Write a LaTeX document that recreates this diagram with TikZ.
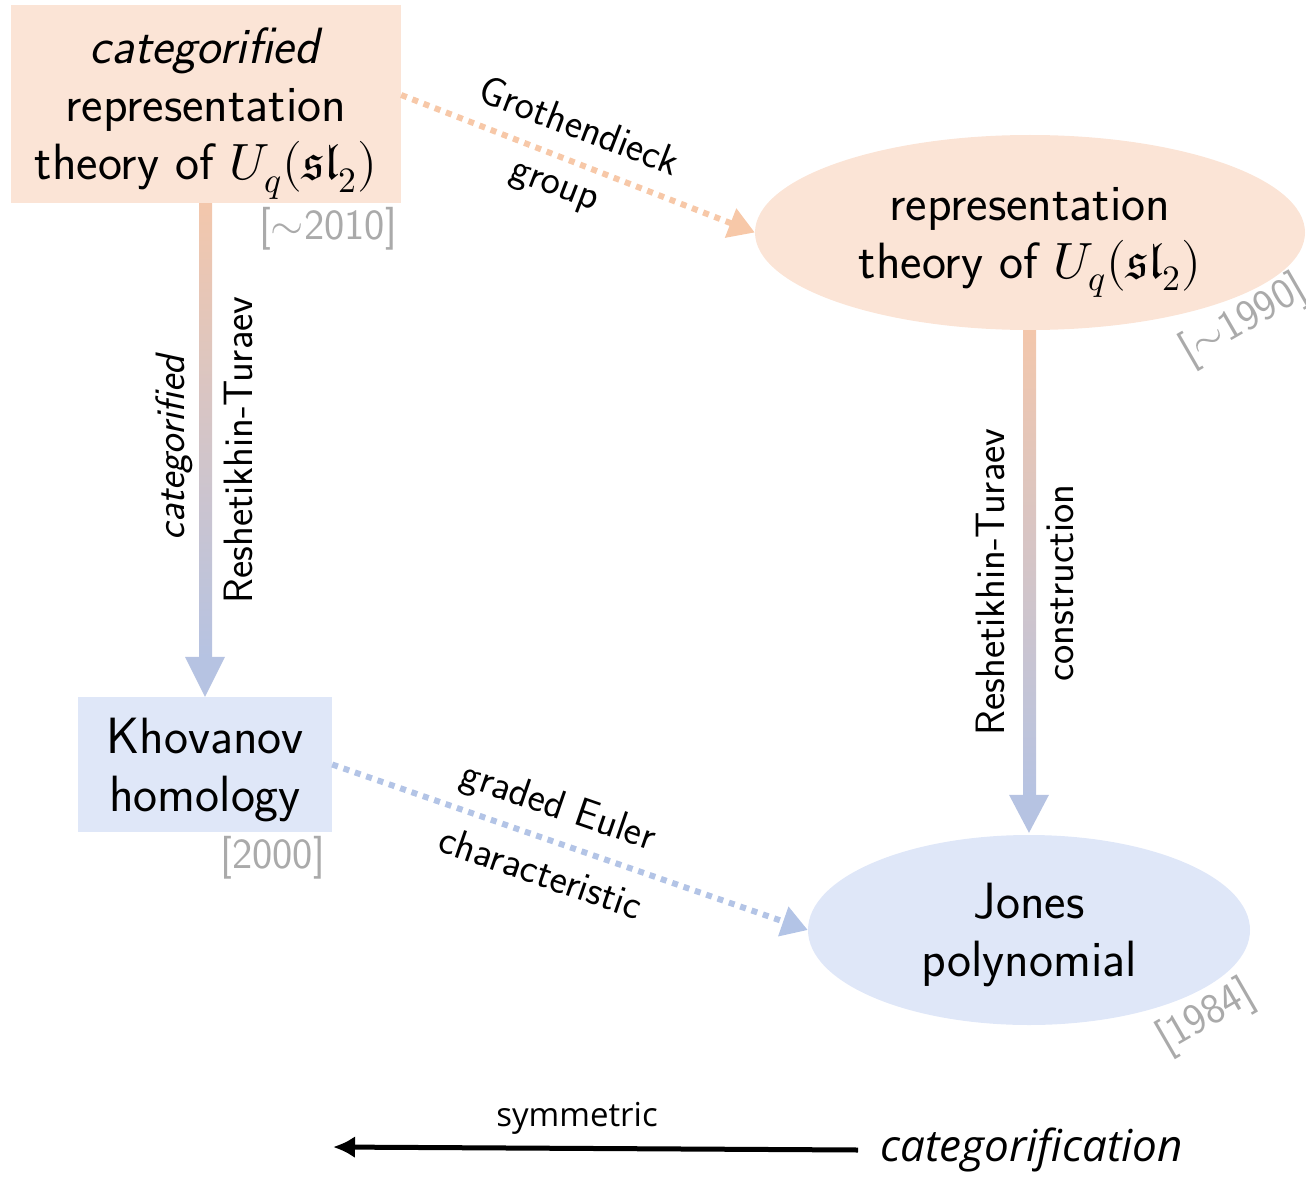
\documentclass[tikz,border=0pt]{standalone}
\usepackage{fontspec}
\usepackage{unicode-math}
\setmathfont{Latin Modern Math}
\newfontfamily\opensans{Open Sans}
\usetikzlibrary{arrows.meta,calc,shapes.geometric}
\definecolor{peachfill}{HTML}{FBE4D6}
\definecolor{peachline}{HTML}{F7C8A8}
\definecolor{bluefill}{HTML}{DFE7F8}
\definecolor{blueline}{HTML}{B3C4E6}
\definecolor{shadetop}{HTML}{F3C7AC}
\definecolor{shadebot}{HTML}{B6C3E2}
\definecolor{dategray}{HTML}{AAAAAA}
\tikzset{
  mainfont/.style={font=\sffamily\fontsize{51}{58}\selectfont, text depth=0pt},
  lblfont/.style={font=\sffamily\fontsize{41}{48}\selectfont, inner sep=0},
  datefont/.style={font=\sffamily\fontsize{43}{50}\selectfont, text=dategray, inner sep=0},
  peachbox/.style={mainfont, rectangle, fill=peachfill, inner sep=0, align=center},
  bluebox/.style={mainfont, rectangle, fill=bluefill, inner sep=0, align=center},
  peachell/.style={mainfont, ellipse, fill=peachfill, inner sep=0, align=center},
  blueell/.style={mainfont, ellipse, fill=bluefill, inner sep=0, align=center},
  dotarrow/.style={line width=6pt, dash pattern=on 6pt off 6pt, -{Triangle[length=26pt,width=30pt]}},
}
\begin{document}
\begin{tikzpicture}[x=1pt,y=-1pt]
\useasboundingbox (0,0) rectangle (1306,1177);
% nodes
\node[peachbox, minimum width=390, minimum height=198] (tl) at (206,104)
  {\textit{categorified}\\representation\\theory of $U_q(\mathfrak{sl}_2)$};
\node[peachell, minimum width=550, minimum height=195] (tr) at (1030,232.5)
  {representation\\theory of $U_q(\mathfrak{sl}_2)$};
\node[bluebox, minimum width=254, minimum height=135] (kh) at (205,764.5)
  {Khovanov\\homology};
\node[blueell, minimum width=442, minimum height=190] (jo) at (1029,930)
  {Jones\\polynomial};
% dates
\node[datefont, anchor=east] (d1) at (397,229) {[$\sim$2010]};
\node[datefont, rotate=30] (d2) at (1244,321) {[$\sim$1990]};
\node[datefont, anchor=east] (d3) at (325,858) {[2000]};
\node[datefont, rotate=30] (d4) at (1206,1017) {[1984]};
% gradient vertical arrows
\shade[top color=shadetop, bottom color=shadebot]
  ($(tl.south)+(-7,0)$) rectangle ($(kh.north)+(7,-40)$);
\fill[shadebot] ($(kh.north)+(-20,-40)$) -- ($(kh.north)+(20,-40)$) -- (kh.north) -- cycle;
\shade[top color=shadetop, bottom color=shadebot]
  ($(tr.south)+(-7,0)$) rectangle ($(jo.north)+(7,-40)$);
\fill[shadebot] ($(jo.north)+(-20,-40)$) -- ($(jo.north)+(20,-40)$) -- ([yshift=2pt]jo.north) -- cycle;
% dotted arrows
\draw[dotarrow, peachline] ([yshift=9pt]tl.east) -- (tr.west);
\draw[dotarrow, blueline] (kh.east) -- (jo.west);
% edge labels
\node[lblfont, rotate=-21] (g1) at (580,125) {Grothendieck};
\node[lblfont, rotate=-21] (g2) at (553,190) {group};
\node[lblfont, rotate=90] (l1) at (174,448) {\itshape categorified};
\node[lblfont, rotate=90] (l2) at (238,450) {Reshetikhin-Turaev};
\node[lblfont, rotate=90] (r1) at (990,582) {Reshetikhin-Turaev};
\node[lblfont, rotate=90] (r2) at (1060,583) {construction};
\node[lblfont, rotate=-19] (e1) at (558,808) {graded Euler};
\node[lblfont, rotate=-19] (e2) at (541,872) {characteristic};
% bottom legend
\node[font=\opensans\itshape\fontsize{44}{50}\selectfont, inner xsep=22pt, inner ysep=0, anchor=west] (cat) at (858,1150) {categorification};
\coordinate (symend) at (333,1147);
\draw[line width=5pt, -{Latex[length=22pt,width=22pt]}] (cat.west) -- (symend);
\node[font=\opensans\fontsize{33}{40}\selectfont, inner sep=0] (sym) at (577,1118) {symmetric};
\end{tikzpicture}
\end{document}
